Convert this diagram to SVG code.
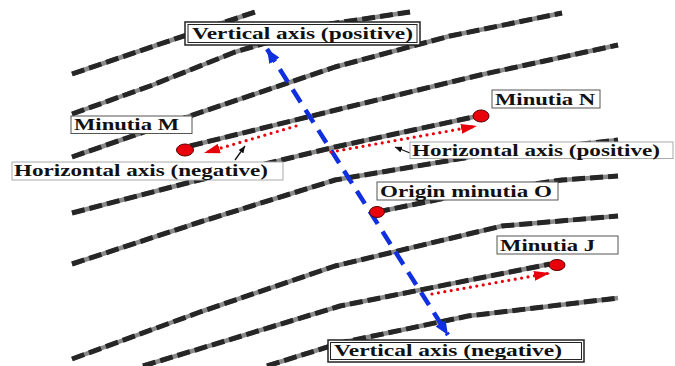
<svg xmlns="http://www.w3.org/2000/svg" width="675" height="366" viewBox="0 0 675 366">
  <style>
    .ridge-base { fill: none; stroke: #8a8a8a; stroke-width: 4.5; stroke-linejoin: round; stroke-linecap: butt; }
    .ridge-top { fill: none; stroke: #262626; stroke-width: 5; stroke-dasharray: 13 5; stroke-linejoin: round; }
    .lbl { font-family: "Liberation Serif", "Times New Roman", serif; font-weight: bold; font-size: 17px; fill: #111; }
    .box { fill: #fff; stroke: #555; stroke-width: 1; }
    .box-light { fill: #fff; stroke: #aaa; stroke-width: 1; }
    .box-dbl-out { fill: #fff; stroke: #222; stroke-width: 1.5; }
    .box-dbl-in { fill: none; stroke: #222; stroke-width: 1; }
    .dot { fill: #e8000b; stroke: #5a0000; stroke-width: 1; }
    .red-dots { fill: none; stroke: #e8000b; stroke-width: 3.2; stroke-linecap: round; stroke-dasharray: 0 6.5; }
    .blue-dash { fill: none; stroke: #1030e0; stroke-width: 4.5; stroke-dasharray: 15 9; }
    .blk { fill: none; stroke: #111; stroke-width: 1.3; }
  </style>
  <defs>
    <marker id="redHead" markerUnits="userSpaceOnUse" markerWidth="16" markerHeight="10" refX="16" refY="5" orient="auto">
      <path d="M0,0 L16,5 L0,10 z" fill="#e8000b"/>
    </marker>
    <marker id="blueHead" markerUnits="userSpaceOnUse" markerWidth="14" markerHeight="12" refX="14" refY="6" orient="auto-start-reverse">
      <path d="M0,0 L14,6 L0,12 z" fill="#1030e0"/>
    </marker>
    <marker id="blkHead" markerUnits="userSpaceOnUse" markerWidth="7" markerHeight="6" refX="7" refY="3" orient="auto">
      <path d="M0,0 L7,3 L0,6 z" fill="#111"/>
    </marker>
  </defs>

  <rect x="0" y="0" width="675" height="366" fill="#fff"/>

  <g id="ridges">
    <g class="ridge-base">
      <path d="M72,74 L160,44 L255,12"/>
      <path d="M72,114 L150,86 L235,52 L330,24 L410,12"/>
      <path d="M72,157 L187,117 L335,67 L450,36 L562,13"/>
      <path d="M190,146 L340,109 L480,75 L618,45"/>
      <path d="M72,213 L187,183 L335,147 L478,116"/>
      <path d="M72,264 L200,222 L335,180 L470,157 L618,140"/>
      <path d="M377,212 L470,193 L562,180 L618,176"/>
      <path d="M72,359 L200,312 L335,266 L502,226 L618,216"/>
      <path d="M143,366 L340,306 L550,264"/>
      <path d="M267,366 L340,343 L468,316 L618,298"/>
    </g>
    <g class="ridge-top">
      <path d="M72,74 L160,44 L255,12"/>
      <path d="M72,114 L150,86 L235,52 L330,24 L410,12"/>
      <path d="M72,157 L187,117 L335,67 L450,36 L562,13"/>
      <path d="M190,146 L340,109 L480,75 L618,45"/>
      <path d="M72,213 L187,183 L335,147 L478,116"/>
      <path d="M72,264 L200,222 L335,180 L470,157 L618,140"/>
      <path d="M377,212 L470,193 L562,180 L618,176"/>
      <path d="M72,359 L200,312 L335,266 L502,226 L618,216"/>
      <path d="M143,366 L340,306 L550,264"/>
      <path d="M267,366 L340,343 L468,316 L618,298"/>
    </g>
  </g>

  <g id="connectors">
    <path class="blue-dash" d="M267,49 L448,335" marker-start="url(#blueHead)" marker-end="url(#blueHead)"/>
    <path class="red-dots" d="M296,126 L204,153" marker-end="url(#redHead)"/>
    <path class="red-dots" d="M331,152 L477,126" marker-end="url(#redHead)"/>
    <path class="red-dots" d="M432,294 L550,273" marker-end="url(#redHead)"/>
    <path class="blk" d="M235,160 L245,146" marker-end="url(#blkHead)"/>
    <path class="blk" d="M410,153 L395,147" marker-end="url(#blkHead)"/>
  </g>

  <g id="vertical-axis-positive">
    <rect class="box-dbl-out" x="185" y="22" width="235" height="23"/>
    <rect class="box-dbl-in" x="188" y="24.5" width="229" height="18"/>
    <text class="lbl" x="192" y="39" textLength="221" lengthAdjust="spacingAndGlyphs">Vertical axis (positive)</text>
  </g>

  <g id="minutia-m">
    <rect class="box" x="71" y="116" width="121" height="17.5"/>
    <text class="lbl" x="74" y="130" textLength="105" lengthAdjust="spacingAndGlyphs">Minutia M</text>
    <ellipse class="dot" cx="185" cy="150" rx="8.5" ry="6"/>
  </g>

  <g id="horizontal-axis-negative">
    <rect class="box-light" x="12" y="162" width="271" height="18"/>
    <text class="lbl" x="14" y="176" textLength="254" lengthAdjust="spacingAndGlyphs">Horizontal axis (negative)</text>
  </g>

  <g id="minutia-n">
    <rect class="box" x="492" y="90" width="108" height="18"/>
    <text class="lbl" x="495" y="105" textLength="100" lengthAdjust="spacingAndGlyphs">Minutia N</text>
    <ellipse class="dot" cx="481" cy="116" rx="8" ry="6"/>
  </g>

  <g id="horizontal-axis-positive">
    <rect class="box-light" x="410" y="142" width="263" height="16.5"/>
    <text class="lbl" x="412" y="156" textLength="248" lengthAdjust="spacingAndGlyphs">Horizontal axis (positive)</text>
  </g>

  <g id="origin-minutia-o">
    <rect class="box" x="377" y="182" width="181" height="18"/>
    <text class="lbl" x="380" y="197" textLength="172" lengthAdjust="spacingAndGlyphs">Origin minutia O</text>
    <ellipse class="dot" cx="377" cy="212" rx="7.5" ry="5.5"/>
  </g>

  <g id="minutia-j">
    <rect class="box" x="497" y="236" width="121" height="18"/>
    <text class="lbl" x="500" y="251" textLength="95" lengthAdjust="spacingAndGlyphs">Minutia J</text>
    <ellipse class="dot" cx="557" cy="265" rx="8" ry="5.5"/>
  </g>

  <g id="vertical-axis-negative">
    <rect class="box-dbl-out" x="328" y="340" width="256" height="22"/>
    <rect class="box-dbl-in" x="330.5" y="342.5" width="251" height="17"/>
    <text class="lbl" x="334" y="356" textLength="228" lengthAdjust="spacingAndGlyphs">Vertical axis (negative)</text>
  </g>
</svg>
